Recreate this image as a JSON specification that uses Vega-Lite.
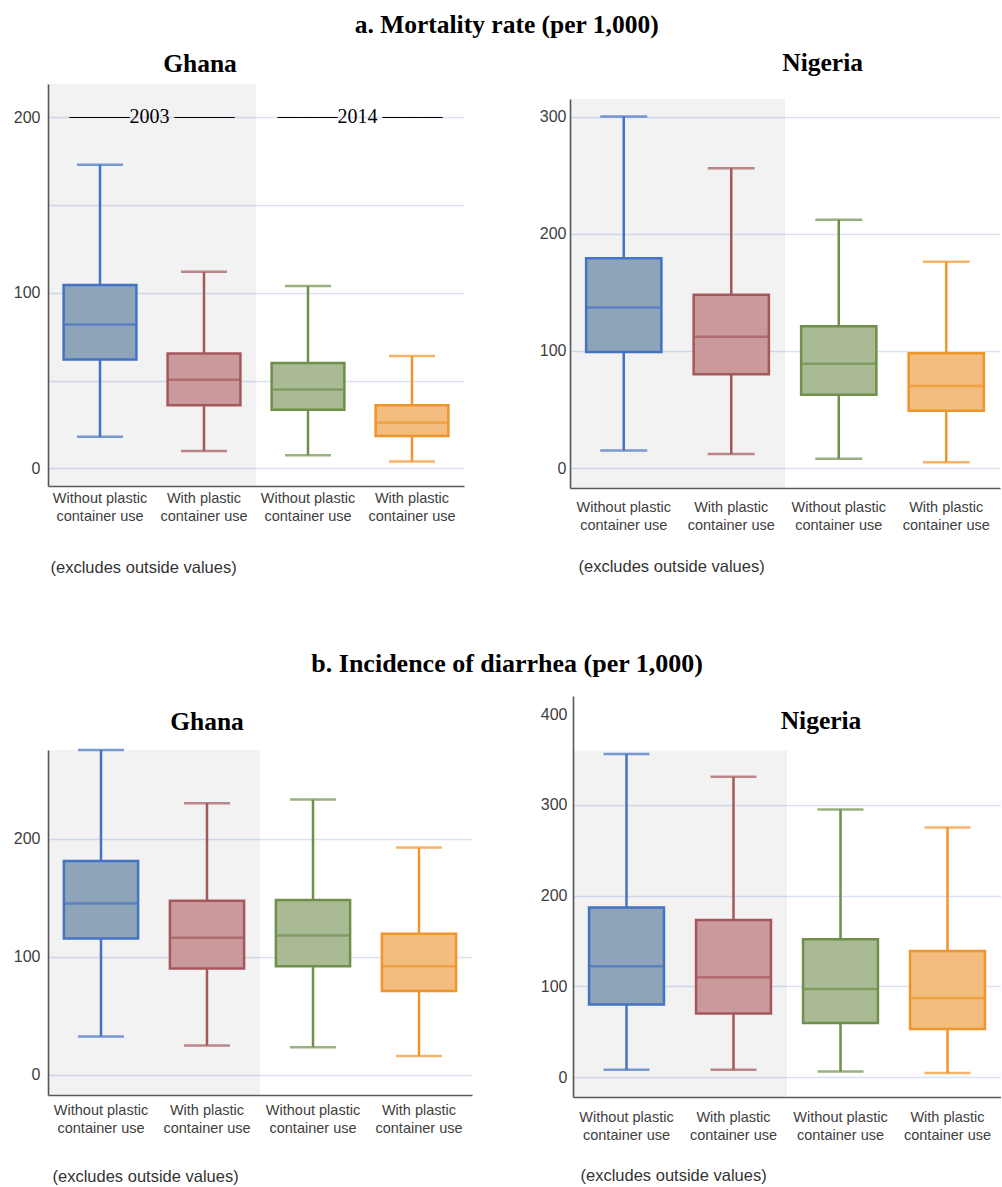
{
  "$schema": "https://vega.github.io/schema/vega-lite/v6.json",
  "background": "white",
  "padding": {"left": 13, "top": 13, "right": 0, "bottom": 0},
  "config": {
    "view": {"stroke": null},
    "font": "Liberation Sans",
    "title": {"font": "Liberation Serif", "fontWeight": "bold", "fontSize": 25.5, "color": "#000"},
    "axisX": {"ticks": false, "tickSize": 0, "grid": false, "domainColor": "#595959", "domainWidth": 1.6, "labelAngle": 0, "labelFont": "Liberation Sans", "labelFontSize": 14.5, "labelLineHeight": 18, "labelColor": "#404040", "labelPadding": 6, "titleFont": "Liberation Sans", "titleFontSize": 16.5, "titleFontWeight": "normal", "titleColor": "#333", "titleAnchor": "start", "titleAlign": "left", "titlePadding": 30},
    "axisY": {"ticks": false, "tickSize": 0, "grid": true, "domainColor": "#595959", "domainWidth": 1.6, "labelFont": "Liberation Sans", "labelFontSize": 16, "labelColor": "#404040", "labelPadding": 4, "gridColor": "#d9e2f4", "gridWidth": 1.3}
  },
  "datasets": {
    "boxes": [
      {"measure": "Mortality", "country": "Ghana", "grp": "Without-1", "round": 1, "lower": 18, "q1": 62, "median": 82, "q3": 104.5, "upper": 173},
      {"measure": "Mortality", "country": "Ghana", "grp": "With-1", "round": 1, "lower": 10, "q1": 36, "median": 50.5, "q3": 65.5, "upper": 112},
      {"measure": "Mortality", "country": "Ghana", "grp": "Without-2", "round": 2, "lower": 7.5, "q1": 33.5, "median": 45, "q3": 60, "upper": 104},
      {"measure": "Mortality", "country": "Ghana", "grp": "With-2", "round": 2, "lower": 4, "q1": 18.5, "median": 26, "q3": 36, "upper": 64},
      {"measure": "Mortality", "country": "Nigeria", "grp": "Without-1", "round": 1, "lower": 15, "q1": 99, "median": 137, "q3": 179, "upper": 300},
      {"measure": "Mortality", "country": "Nigeria", "grp": "With-1", "round": 1, "lower": 12, "q1": 80, "median": 112, "q3": 148, "upper": 256},
      {"measure": "Mortality", "country": "Nigeria", "grp": "Without-2", "round": 2, "lower": 8, "q1": 62.5, "median": 89, "q3": 121, "upper": 212},
      {"measure": "Mortality", "country": "Nigeria", "grp": "With-2", "round": 2, "lower": 5, "q1": 49, "median": 70, "q3": 98, "upper": 176},
      {"measure": "Diarrhea", "country": "Ghana", "grp": "Without-1", "round": 1, "lower": 32.5, "q1": 115.5, "median": 145, "q3": 181, "upper": 275},
      {"measure": "Diarrhea", "country": "Ghana", "grp": "With-1", "round": 1, "lower": 25, "q1": 90, "median": 116, "q3": 147.5, "upper": 230},
      {"measure": "Diarrhea", "country": "Ghana", "grp": "Without-2", "round": 2, "lower": 23.5, "q1": 92, "median": 118, "q3": 148, "upper": 233},
      {"measure": "Diarrhea", "country": "Ghana", "grp": "With-2", "round": 2, "lower": 16, "q1": 71, "median": 92, "q3": 119.5, "upper": 192.5},
      {"measure": "Diarrhea", "country": "Nigeria", "grp": "Without-1", "round": 1, "lower": 8, "q1": 80, "median": 122, "q3": 187, "upper": 356},
      {"measure": "Diarrhea", "country": "Nigeria", "grp": "With-1", "round": 1, "lower": 8, "q1": 70, "median": 110, "q3": 173, "upper": 331},
      {"measure": "Diarrhea", "country": "Nigeria", "grp": "Without-2", "round": 2, "lower": 6, "q1": 59.5, "median": 97, "q3": 152, "upper": 295},
      {"measure": "Diarrhea", "country": "Nigeria", "grp": "With-2", "round": 2, "lower": 4.5, "q1": 53, "median": 87, "q3": 139, "upper": 275}
    ],
    "years": [
      {"grp": "Without-1", "label": "———2003 ———"},
      {"grp": "Without-2", "label": "———2014 ———"}
    ]
  },
  "data": {"name": "boxes"},
  "spacing": 75,
  "vconcat": [
    {
      "title": {"text": "a. Mortality rate (per 1,000)", "fontSize": 25.5, "anchor": "middle", "offset": 12},
      "spacing": 75,
      "hconcat": [
        {
          "width": 416, "height": 402,
          "title": {"text": "Ghana", "offset": 7, "anchor": "middle", "dx": -56},
          "transform": [{"filter": "datum.measure == 'Mortality' && datum.country == 'Ghana'"}],
          "encoding": {"x": {"field": "grp", "type": "nominal", "scale": {"domain": ["Without-1", "With-1", "Without-2", "With-2"], "paddingInner": 0, "paddingOuter": 0}, "axis": {"title": "(excludes outside values)", "titleX": 2, "labelPadding": 5, "titlePadding": 37, "labelExpr": "indexof(datum.value, 'Without') == 0 ? ['Without plastic', 'container use'] : ['With plastic', 'container use']"}}},
          "layer": [
            {"transform": [{"filter": "datum.round == 1"}], "mark": {"type": "rect", "fill": "#000", "fillOpacity": 0.052}, "encoding": {"y": {"datum": 219, "type": "quantitative", "title": null, "scale": {"domain": [-10, 219], "nice": false, "zero": false}, "axis": {"grid": true, "values": [0, 50, 100, 150, 200], "labelPadding": 8, "labelExpr": "datum.value % 100 == 0 ? datum.label : ''"}}, "y2": {"datum": -10}}},
            {"mark": {"type": "rule", "strokeWidth": 2.5}, "encoding": {"y": {"field": "lower", "type": "quantitative", "title": null}, "y2": {"field": "upper"}, "color": {"field": "grp", "type": "nominal", "legend": null, "scale": {"domain": ["Without-1", "With-1", "Without-2", "With-2"], "range": ["#4472c4", "#a5585c", "#6f8f4a", "#f0952b"]}}}},
            {"mark": {"type": "bar", "width": {"band": 0.7}, "strokeWidth": 2.5}, "encoding": {"y": {"field": "q1", "type": "quantitative", "title": null}, "y2": {"field": "q3"}, "fill": {"field": "grp", "type": "nominal", "legend": null, "scale": {"domain": ["Without-1", "With-1", "Without-2", "With-2"], "range": ["#8ea4b9", "#c9999c", "#a9ba95", "#f2bd7e"]}}, "stroke": {"field": "grp", "type": "nominal", "legend": null, "scale": {"domain": ["Without-1", "With-1", "Without-2", "With-2"], "range": ["#4472c4", "#a5585c", "#6f8f4a", "#f0952b"]}}}},
            {"mark": {"type": "tick", "size": 71, "thickness": 2.5}, "encoding": {"y": {"field": "median", "type": "quantitative", "title": null}, "color": {"field": "grp", "type": "nominal", "legend": null}}},
            {"mark": {"type": "tick", "size": 46, "thickness": 2.5}, "encoding": {"y": {"field": "upper", "type": "quantitative", "title": null}, "color": {"field": "grp", "type": "nominal", "legend": null}}},
            {"mark": {"type": "tick", "size": 46, "thickness": 2.5}, "encoding": {"y": {"field": "lower", "type": "quantitative", "title": null}, "color": {"field": "grp", "type": "nominal", "legend": null}}},
            {"data": {"name": "years"}, "mark": {"type": "text", "font": "Liberation Serif", "fontSize": 20, "color": "#000", "baseline": "middle"}, "encoding": {"x": {"field": "grp", "type": "nominal", "bandPosition": 1}, "y": {"datum": 200, "type": "quantitative"}, "text": {"field": "label"}}}
          ]
        },
        {
          "title": {"text": "Nigeria", "offset": 8, "anchor": "middle", "dx": 53},
          "spacing": 0,
          "vconcat": [
            {"width": 1, "height": 15, "transform": [{"filter": "false"}], "mark": {"type": "rule", "opacity": 0}, "encoding": {}},
            {
              "width": 430, "height": 389,
              "transform": [{"filter": "datum.measure == 'Mortality' && datum.country == 'Nigeria'"}],
              "encoding": {"x": {"field": "grp", "type": "nominal", "scale": {"domain": ["Without-1", "With-1", "Without-2", "With-2"], "paddingInner": 0, "paddingOuter": 0}, "axis": {"title": "(excludes outside values)", "titleX": 8, "labelPadding": 12, "titlePadding": 27, "labelExpr": "indexof(datum.value, 'Without') == 0 ? ['Without plastic', 'container use'] : ['With plastic', 'container use']"}}},
              "layer": [
                {"transform": [{"filter": "datum.round == 1"}], "mark": {"type": "rect", "fill": "#000", "fillOpacity": 0.052}, "encoding": {"y": {"datum": 315, "type": "quantitative", "title": null, "scale": {"domain": [-17, 315], "nice": false, "zero": false}, "axis": {"grid": true, "values": [0, 100, 200, 300]}}, "y2": {"datum": -17}}},
                {"mark": {"type": "rule", "strokeWidth": 2.5}, "encoding": {"y": {"field": "lower", "type": "quantitative", "title": null}, "y2": {"field": "upper"}, "color": {"field": "grp", "type": "nominal", "legend": null, "scale": {"domain": ["Without-1", "With-1", "Without-2", "With-2"], "range": ["#4472c4", "#a5585c", "#6f8f4a", "#f0952b"]}}}},
                {"mark": {"type": "bar", "width": {"band": 0.7}, "strokeWidth": 2.5}, "encoding": {"y": {"field": "q1", "type": "quantitative", "title": null}, "y2": {"field": "q3"}, "fill": {"field": "grp", "type": "nominal", "legend": null, "scale": {"domain": ["Without-1", "With-1", "Without-2", "With-2"], "range": ["#8ea4b9", "#c9999c", "#a9ba95", "#f2bd7e"]}}, "stroke": {"field": "grp", "type": "nominal", "legend": null, "scale": {"domain": ["Without-1", "With-1", "Without-2", "With-2"], "range": ["#4472c4", "#a5585c", "#6f8f4a", "#f0952b"]}}}},
                {"mark": {"type": "tick", "size": 75, "thickness": 2.5}, "encoding": {"y": {"field": "median", "type": "quantitative", "title": null}, "color": {"field": "grp", "type": "nominal", "legend": null}}},
                {"mark": {"type": "tick", "size": 47, "thickness": 2.5}, "encoding": {"y": {"field": "upper", "type": "quantitative", "title": null}, "color": {"field": "grp", "type": "nominal", "legend": null}}},
                {"mark": {"type": "tick", "size": 47, "thickness": 2.5}, "encoding": {"y": {"field": "lower", "type": "quantitative", "title": null}, "color": {"field": "grp", "type": "nominal", "legend": null}}}
              ]
            }
          ]
        }
      ]
    },
    {
      "title": {"text": "b. Incidence of diarrhea (per 1,000)", "fontSize": 26, "anchor": "middle", "offset": 19},
      "spacing": 68,
      "hconcat": [
        {
          "spacing": 0,
          "vconcat": [
            {"width": 1, "height": 14, "transform": [{"filter": "false"}], "mark": {"type": "rule", "opacity": 0}, "encoding": {}},
            {
              "width": 424, "height": 345,
              "title": {"text": "Ghana", "offset": 13, "anchor": "middle", "dx": -53},
              "transform": [{"filter": "datum.measure == 'Diarrhea' && datum.country == 'Ghana'"}],
              "encoding": {"x": {"field": "grp", "type": "nominal", "scale": {"domain": ["Without-1", "With-1", "Without-2", "With-2"], "paddingInner": 0, "paddingOuter": 0}, "axis": {"title": "(excludes outside values)", "titleX": 4, "labelPadding": 8, "titlePadding": 34, "labelExpr": "indexof(datum.value, 'Without') == 0 ? ['Without plastic', 'container use'] : ['With plastic', 'container use']"}}},
              "layer": [
                {"transform": [{"filter": "datum.round == 1"}], "mark": {"type": "rect", "fill": "#000", "fillOpacity": 0.052}, "encoding": {"y": {"datum": 275, "type": "quantitative", "title": null, "scale": {"domain": [-17, 275], "nice": false, "zero": false}, "axis": {"grid": true, "values": [0, 100, 200], "labelPadding": 8}}, "y2": {"datum": -17}}},
                {"mark": {"type": "rule", "strokeWidth": 2.5}, "encoding": {"y": {"field": "lower", "type": "quantitative", "title": null}, "y2": {"field": "upper"}, "color": {"field": "grp", "type": "nominal", "legend": null, "scale": {"domain": ["Without-1", "With-1", "Without-2", "With-2"], "range": ["#4472c4", "#a5585c", "#6f8f4a", "#f0952b"]}}}},
                {"mark": {"type": "bar", "width": {"band": 0.7}, "strokeWidth": 2.5}, "encoding": {"y": {"field": "q1", "type": "quantitative", "title": null}, "y2": {"field": "q3"}, "fill": {"field": "grp", "type": "nominal", "legend": null, "scale": {"domain": ["Without-1", "With-1", "Without-2", "With-2"], "range": ["#8ea4b9", "#c9999c", "#a9ba95", "#f2bd7e"]}}, "stroke": {"field": "grp", "type": "nominal", "legend": null, "scale": {"domain": ["Without-1", "With-1", "Without-2", "With-2"], "range": ["#4472c4", "#a5585c", "#6f8f4a", "#f0952b"]}}}},
                {"mark": {"type": "tick", "size": 74, "thickness": 2.5}, "encoding": {"y": {"field": "median", "type": "quantitative", "title": null}, "color": {"field": "grp", "type": "nominal", "legend": null}}},
                {"mark": {"type": "tick", "size": 46, "thickness": 2.5}, "encoding": {"y": {"field": "upper", "type": "quantitative", "title": null}, "color": {"field": "grp", "type": "nominal", "legend": null}}},
                {"mark": {"type": "tick", "size": 46, "thickness": 2.5}, "encoding": {"y": {"field": "lower", "type": "quantitative", "title": null}, "color": {"field": "grp", "type": "nominal", "legend": null}}}
              ]
            }
          ]
        },
        {
          "width": 428, "height": 401,
          "title": {"text": "Nigeria", "offset": -38, "anchor": "middle", "dx": 34},
          "transform": [{"filter": "datum.measure == 'Diarrhea' && datum.country == 'Nigeria'"}],
          "encoding": {"x": {"field": "grp", "type": "nominal", "scale": {"domain": ["Without-1", "With-1", "Without-2", "With-2"], "paddingInner": 0, "paddingOuter": 0}, "axis": {"title": "(excludes outside values)", "titleX": 7, "labelPadding": 13, "titlePadding": 26, "labelExpr": "indexof(datum.value, 'Without') == 0 ? ['Without plastic', 'container use'] : ['With plastic', 'container use']"}}},
          "layer": [
            {"transform": [{"filter": "datum.round == 1"}], "mark": {"type": "rect", "fill": "#000", "fillOpacity": 0.052}, "encoding": {"y": {"datum": 360, "type": "quantitative", "title": null, "scale": {"domain": [-22, 420], "nice": false, "zero": false}, "axis": {"grid": true, "values": [0, 100, 200, 300, 400], "labelPadding": 6, "gridOpacity": {"condition": {"test": "datum.value == 400", "value": 0}, "value": 1}}}, "y2": {"datum": -22}}},
            {"mark": {"type": "rule", "strokeWidth": 2.5}, "encoding": {"y": {"field": "lower", "type": "quantitative", "title": null}, "y2": {"field": "upper"}, "color": {"field": "grp", "type": "nominal", "legend": null, "scale": {"domain": ["Without-1", "With-1", "Without-2", "With-2"], "range": ["#4472c4", "#a5585c", "#6f8f4a", "#f0952b"]}}}},
            {"mark": {"type": "bar", "width": {"band": 0.7}, "strokeWidth": 2.5}, "encoding": {"y": {"field": "q1", "type": "quantitative", "title": null}, "y2": {"field": "q3"}, "fill": {"field": "grp", "type": "nominal", "legend": null, "scale": {"domain": ["Without-1", "With-1", "Without-2", "With-2"], "range": ["#8ea4b9", "#c9999c", "#a9ba95", "#f2bd7e"]}}, "stroke": {"field": "grp", "type": "nominal", "legend": null, "scale": {"domain": ["Without-1", "With-1", "Without-2", "With-2"], "range": ["#4472c4", "#a5585c", "#6f8f4a", "#f0952b"]}}}},
            {"mark": {"type": "tick", "size": 73, "thickness": 2.5}, "encoding": {"y": {"field": "median", "type": "quantitative", "title": null}, "color": {"field": "grp", "type": "nominal", "legend": null}}},
            {"mark": {"type": "tick", "size": 46, "thickness": 2.5}, "encoding": {"y": {"field": "upper", "type": "quantitative", "title": null}, "color": {"field": "grp", "type": "nominal", "legend": null}}},
            {"mark": {"type": "tick", "size": 46, "thickness": 2.5}, "encoding": {"y": {"field": "lower", "type": "quantitative", "title": null}, "color": {"field": "grp", "type": "nominal", "legend": null}}}
          ]
        }
      ]
    }
  ]
}
